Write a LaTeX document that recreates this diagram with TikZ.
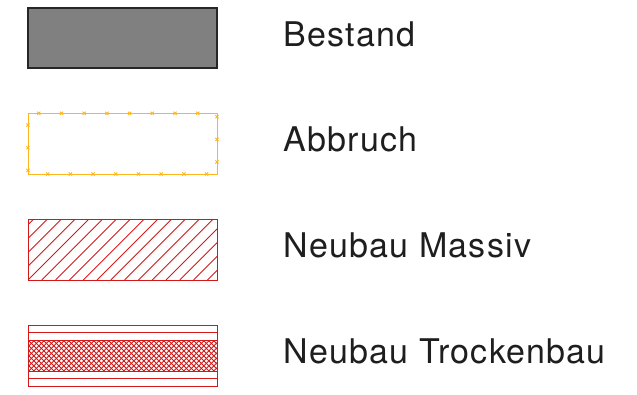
\documentclass[tikz,border=0pt]{standalone}
\usepackage{fontspec}
\setmainfont{TeX Gyre Heros}[LetterSpace=3.5]
\definecolor{hatchred}{RGB}{212,24,24}
\definecolor{abbOrange}{RGB}{255,182,30}
\definecolor{bestgray}{RGB}{128,128,128}
\definecolor{txtcol}{RGB}{30,30,30}
\begin{document}
\begin{tikzpicture}[x=1pt,y=-1pt,
  legendtext/.style={anchor=base west, inner sep=0pt, font=\fontsize{34}{40}\selectfont, text=txtcol},
  redline/.style={draw=hatchred, line width=1pt},
  hatchline/.style={draw=hatchred, line width=0.9pt},
  crossline/.style={draw=hatchred, line width=0.8pt},
  abbmark/.style={draw=abbOrange, line width=0.9pt}]
\useasboundingbox (0,0) rectangle (637,394);

% Bestand
\draw[fill=bestgray, draw=black!85, line width=1.3pt] (28,8) rectangle (217,68);
\node[legendtext] (tBestand) at (283.5,46) {Bestand};

% Abbruch
\draw[draw=abbOrange, line width=1pt] (28,113.3) rectangle (217,174);
\foreach \x/\y in {47.7/174, 70.4/174, 93.1/174, 115.8/174, 138.5/174, 161.2/174, 183.9/174, 206.6/174,
                   217/162.1, 217/139.4, 217/116.7,
                   197.7/113.3, 175/113.3, 152.3/113.3, 129.6/113.3, 106.9/113.3, 84.2/113.3, 61.5/113.3, 38.8/113.3,
                   28/125, 28/147.7, 28/170.4}
  \draw[abbmark, shift={(\x,\y)}] (-1.6,-1.6) -- (1.6,1.6) (-1.6,1.6) -- (1.6,-1.6);
\node[legendtext] (tAbbruch) at (283.5,151.5) {Abbruch};

% Neubau Massiv
\begin{scope}
  \clip (28,219.3) rectangle (217,280);
  \foreach \i in {-5,...,14}
    \draw[hatchline] (28+13.8*\i,280) -- ++(70,-70);
\end{scope}
\draw[redline] (28,219.3) rectangle (217,280);
\node[legendtext] (tMassiv) at (283.5,257.5) {Neubau Massiv};

% Neubau Trockenbau
\begin{scope}
  \clip (28,340) rectangle (217,371.7);
  \foreach \i in {-8,...,39} {
    \draw[crossline] (28+5*\i,371.7) -- ++(34,-34);
    \draw[crossline] (28+5*\i,340) -- ++(34,34);
  }
\end{scope}
\draw[redline] (28,325) rectangle (217,386);
\foreach \yy in {332.3,340,371.7,378.3}
  \draw[redline] (28,\yy) -- (217,\yy);
\node[legendtext] (tTrocken) at (283.5,363.3) {Neubau Trockenbau};
\end{tikzpicture}
\end{document}
